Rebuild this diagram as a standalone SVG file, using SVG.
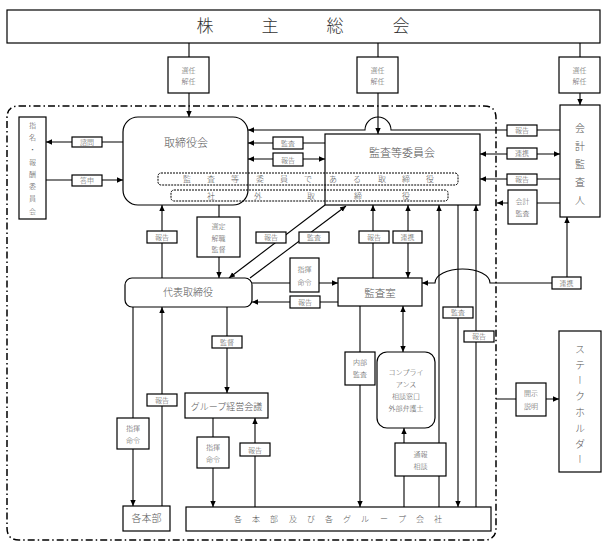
<svg xmlns="http://www.w3.org/2000/svg" width="607" height="546" viewBox="0 0 607 546">
<style>
.b{fill:#fff;stroke:#000;stroke-width:1.2}
.d{fill:none;stroke:#000;stroke-width:1;stroke-dasharray:2 1}
.l{fill:none;stroke:#000;stroke-width:1.1}
.f{fill:none;stroke:#000;stroke-width:1.5;stroke-dasharray:7 3 1.5 3}
text{font-family:"Noto Sans CJK JP","Noto Sans CJK SC",sans-serif;fill:#555;text-anchor:middle;font-weight:300}
.s{font-size:7px}
.m{font-size:8px}
.v{writing-mode:vertical-rl;text-anchor:start}
</style>
<defs>
<marker id="a" viewBox="0 0 10 10" refX="10" refY="5" markerUnits="userSpaceOnUse" markerWidth="6" markerHeight="6" orient="auto-start-reverse"><path d="M0,0.5 L10,5 L0,9.5z" fill="#000"/></marker>
</defs>
<path class="f" d="M19,106 H484 Q496,106 496,118 V528 Q496,540 484,540 H19 Q7,540 7,528 V118 Q7,106 19,106 Z"/>
<g id="connectors">
<path class="l" d="M189,43 V57 M378,43 V57 M580,43 V57"/>
<path class="l" marker-end="url(#a)" d="M189,93 V117"/>
<path class="l" marker-end="url(#a)" d="M378,93 V134"/>
<path class="l" marker-end="url(#a)" d="M580,93 V105"/>
<path class="l" marker-end="url(#a)" d="M560,130 H391 A13,13 0 0 0 365,130 H248"/>
<path class="l" marker-end="url(#a)" d="M325,143 H248"/>
<path class="l" marker-start="url(#a)" marker-end="url(#a)" d="M325,159 H248"/>
<path class="l" marker-start="url(#a)" marker-end="url(#a)" d="M560,154 H480"/>
<path class="l" marker-end="url(#a)" d="M560,179 H480"/>
<path class="l" marker-end="url(#a)" d="M560,203 H497"/>
<path class="l" marker-end="url(#a)" d="M567,283 V217"/>
<path class="l" marker-end="url(#a)" d="M567,283 H490 A27.5,14 0 0 0 435,283 H422"/>
<path class="l" marker-end="url(#a)" d="M123,142 H46"/>
<path class="l" marker-end="url(#a)" d="M46,180 H123"/>
<path class="l" marker-end="url(#a)" d="M162,278 V205"/>
<path class="l" marker-end="url(#a)" d="M219,205 V278"/>
<path class="l" marker-end="url(#a)" d="M325,205 L229,278"/>
<path class="l" marker-end="url(#a)" d="M250,278 L346,206"/>
<path class="l" marker-end="url(#a)" d="M252,283 H338"/>
<path class="l" marker-end="url(#a)" d="M338,302 H252"/>
<path class="l" marker-end="url(#a)" d="M373,278 V205"/>
<path class="l" marker-start="url(#a)" marker-end="url(#a)" d="M408,278 V205"/>
<path class="l" marker-end="url(#a)" d="M439,507 V205"/>
<path class="l" marker-end="url(#a)" d="M458,205 V507"/>
<path class="l" marker-end="url(#a)" d="M476,507 V205"/>
<path class="l" marker-start="url(#a)" marker-end="url(#a)" d="M403,306 V352"/>
<path class="l" marker-end="url(#a)" d="M360,306 V507"/>
<path class="l" marker-end="url(#a)" d="M404,507 V428"/>
<path class="l" marker-end="url(#a)" d="M133,307 V506"/>
<path class="l" marker-end="url(#a)" d="M162,506 V307"/>
<path class="l" marker-end="url(#a)" d="M227,307 V393"/>
<path class="l" marker-end="url(#a)" d="M213,418 V507"/>
<path class="l" marker-end="url(#a)" d="M255,507 V418"/>
<path class="l" marker-end="url(#a)" d="M496,399 H559"/>
</g>
<g id="shareholders"><rect class="b" x="7" y="10" width="593" height="33"/><text x="205 270 335 401" y="32" style="font-size:17px;fill:#333">株主総会</text></g>
<g id="sel1"><rect class="b" x="168" y="57" width="41" height="36"/><text class="s" x="188.5" y="73">選任</text><text class="s" x="188.5" y="84">解任</text></g>
<g id="sel2"><rect class="b" x="357" y="57" width="41" height="36"/><text class="s" x="377.5" y="73">選任</text><text class="s" x="377.5" y="84">解任</text></g>
<g id="sel3"><rect class="b" x="559" y="57" width="41" height="36"/><text class="s" x="579.5" y="73">選任</text><text class="s" x="579.5" y="84">解任</text></g>
<g id="auditor"><rect class="b" x="560" y="105" width="40" height="112"/><text class="v" x="580" y="123" style="font-size:10px;letter-spacing:8px">会計監査人</text></g>
<g id="board"><rect class="b" x="123" y="117" width="125" height="88" rx="15"/><text x="186" y="147" style="font-size:11px">取締役会</text></g>
<g id="committee"><rect class="b" x="325" y="134" width="155" height="71"/><text x="402" y="157" style="font-size:11px">監査等委員会</text></g>
<g id="audit-directors"><rect class="d" x="158" y="173" width="300" height="12" rx="3"/><text class="m" x="187 211 235 260 284 308 333 357 382 406 430" y="182">監査等委員である取締役</text></g>
<g id="outside-directors"><rect class="d" x="171" y="190" width="277" height="11" rx="3"/><text class="m" x="211 258 311 358 406" y="198.5">社外取締役</text></g>
<g id="nomination"><rect class="b" x="19" y="117" width="27" height="102"/><text class="v" x="32.5" y="121.5" style="font-size:7px;letter-spacing:5.3px">指名・報酬委員会</text></g>
<g id="ceo"><rect class="b" x="125" y="278" width="127" height="29" rx="7"/><text x="188" y="296" style="font-size:10px">代表取締役</text></g>
<g id="audit-office"><rect class="b" x="338" y="278" width="84" height="28"/><text x="380" y="297" style="font-size:10.5px">監査室</text></g>
<g id="group-meeting"><rect class="b" x="185" y="393" width="83" height="25"/><text x="226.5" y="410" style="font-size:9px">グループ経営会議</text></g>
<g id="departments"><rect class="b" x="123" y="506" width="47" height="25"/><text x="146.5" y="522" style="font-size:10px">各本部</text></g>
<g id="group-companies"><rect class="b" x="186" y="507" width="305" height="24"/><text class="m" x="238 256 274 293 311 329 347 365 384 402 420 438" y="522">各本部及び各グループ会社</text></g>
<g id="compliance"><rect class="b" x="377" y="352" width="58" height="76" rx="10"/><text class="s" x="406" y="375">コンプライ</text><text class="s" x="406" y="387">アンス</text><text class="s" x="406" y="399">相談窓口</text><text class="s" x="406" y="411">外部弁護士</text></g>
<g id="stakeholders"><rect class="b" x="559" y="331" width="42" height="141"/><text class="v" x="580" y="344" style="font-size:10px;letter-spacing:5.8px">ステークホルダー</text></g>
<g id="labels">
<rect class="b" x="72" y="137" width="30" height="10"/><text class="s" x="87" y="145">諮問</text>
<rect class="b" x="72" y="175" width="30" height="11"/><text class="s" x="87" y="183">答申</text>
<rect class="b" x="273" y="137" width="30" height="12"/><text class="s" x="288" y="146">監査</text>
<rect class="b" x="273" y="153" width="30" height="13"/><text class="s" x="288" y="162.5">報告</text>
<rect class="b" x="507" y="125" width="30" height="11"/><text class="s" x="522" y="133">報告</text>
<rect class="b" x="507" y="148" width="30" height="11"/><text class="s" x="522" y="156">連携</text>
<rect class="b" x="507" y="174" width="30" height="11"/><text class="s" x="522" y="182">報告</text>
<rect class="b" x="508" y="190" width="29" height="34"/><text class="s" x="522.5" y="204">会計</text><text class="s" x="522.5" y="216">監査</text>
<rect class="b" x="552" y="277" width="29" height="12"/><text class="s" x="566.5" y="286">連携</text>
<rect class="b" x="147" y="231" width="30" height="12"/><text class="s" x="162" y="240">報告</text>
<rect class="b" x="197" y="217" width="43" height="40"/><text class="s" x="218.5" y="229">選定</text><text class="s" x="218.5" y="240.5">解職</text><text class="s" x="218.5" y="252">監督</text>
<rect class="b" x="256" y="232" width="30" height="11"/><text class="s" x="271" y="240">報告</text>
<rect class="b" x="299" y="232" width="30" height="11"/><text class="s" x="314" y="240">監査</text>
<rect class="b" x="290" y="258" width="29" height="34"/><text class="s" x="304.5" y="272">指揮</text><text class="s" x="304.5" y="285">命令</text>
<rect class="b" x="290" y="296" width="30" height="12"/><text class="s" x="305" y="305">報告</text>
<rect class="b" x="359" y="231" width="30" height="12"/><text class="s" x="374" y="240">報告</text>
<rect class="b" x="393" y="231" width="29" height="12"/><text class="s" x="407.5" y="240">連携</text>
<rect class="b" x="443" y="307" width="30" height="11"/><text class="s" x="458" y="315">監査</text>
<rect class="b" x="464" y="331" width="30" height="11"/><text class="s" x="479" y="339">報告</text>
<rect class="b" x="345" y="352" width="30" height="33"/><text class="s" x="360" y="365">内部</text><text class="s" x="360" y="377">監査</text>
<rect class="b" x="395" y="443" width="51" height="33"/><text class="s" x="420.5" y="457">通報</text><text class="s" x="420.5" y="469">相談</text>
<rect class="b" x="117" y="418" width="32" height="31"/><text class="s" x="133" y="431">指揮</text><text class="s" x="133" y="443">命令</text>
<rect class="b" x="147" y="394" width="30" height="12"/><text class="s" x="162" y="403">報告</text>
<rect class="b" x="212" y="336" width="30" height="12"/><text class="s" x="227" y="345">監督</text>
<rect class="b" x="197" y="437" width="32" height="31"/><text class="s" x="213" y="450">指揮</text><text class="s" x="213" y="462">命令</text>
<rect class="b" x="240" y="443" width="30" height="13"/><text class="s" x="255" y="452.5">報告</text>
<rect class="b" x="516" y="383" width="30" height="33"/><text class="s" x="531" y="396">開示</text><text class="s" x="531" y="409">説明</text>
</g>
</svg>
